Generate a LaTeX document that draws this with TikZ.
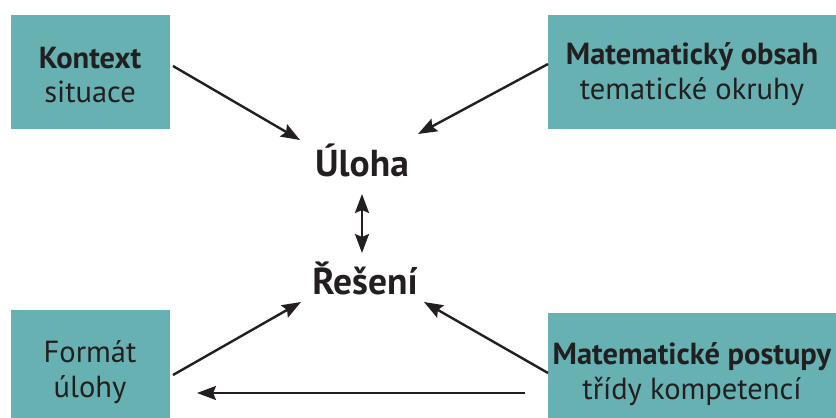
\documentclass[tikz,border=0pt]{standalone}
\usepackage{fontspec}
\setmainfont{PT Sans}
\usetikzlibrary{arrows.meta}
\definecolor{teal1}{RGB}{103,177,178}
\definecolor{ink}{RGB}{35,31,32}
\begin{document}
\begin{tikzpicture}[x=1pt,y=-1pt,
  box/.style={fill=teal1,draw=none,inner sep=0pt,outer sep=0pt,anchor=north west},
  boxtxt/.style={align=center,text=ink,inner sep=0pt,font=\fontsize{30.5}{34.5}\selectfont},
  big/.style={text=ink,inner sep=0pt,font=\fontsize{37.5}{40}\selectfont\bfseries},
  arr/.style={draw=ink,line width=2.4pt,-{Stealth[length=19pt,width=14pt,inset=3pt]}},
  darr/.style={draw=ink,line width=2.4pt,{Stealth[length=19pt,width=14pt,inset=3pt]}-{Stealth[length=19pt,width=14pt,inset=3pt]}}]
\useasboundingbox (0,0) rectangle (836,418);
\node[box,minimum width=159pt,minimum height=114pt] (tl) at (11,15) {};
\node[box,minimum width=288pt,minimum height=114pt] (tr) at (548,15) {};
\node[box,minimum width=159pt,minimum height=108pt] (bl) at (11,310) {};
\node[box,minimum width=288pt,minimum height=105pt] (br) at (548,313) {};
\node[boxtxt] (tlt) at (90,75) {\textbf{Kontext}\\situace};
\node[boxtxt] (trt) at (692,74) {\textbf{Matematický obsah}\\tematické okruhy};
\node[boxtxt] (blt) at (90,372) {Formát\\úlohy};
\node[boxtxt] (brt) at (692,374) {\textbf{Matematické postupy}\\třídy kompetencí};
\node[big] (ul) at (362,160) {Úloha};
\node[big] (re) at (365,278) {Řešení};
\coordinate (a1s) at (173,66);  \coordinate (a1e) at (300,140);
\coordinate (a2s) at (548,64);  \coordinate (a2e) at (418,134);
\coordinate (a3s) at (362,194); \coordinate (a3e) at (362,253);
\coordinate (a4s) at (173,375); \coordinate (a4e) at (301,302);
\coordinate (a5s) at (548,373); \coordinate (a5e) at (424,302);
\coordinate (a6s) at (525,393); \coordinate (a6e) at (197,393);
\draw[arr] (a1s) -- (a1e);
\draw[arr] (a2s) -- (a2e);
\draw[darr] (a3s) -- (a3e);
\draw[arr] (a4s) -- (a4e);
\draw[arr] (a5s) -- (a5e);
\draw[arr] (a6s) -- (a6e);
\end{tikzpicture}
\end{document}
